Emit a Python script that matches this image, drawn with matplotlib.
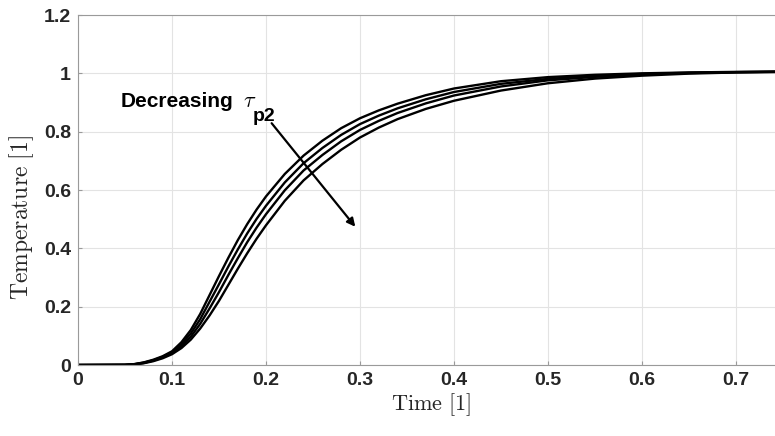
import matplotlib
matplotlib.use("Agg")
import matplotlib.pyplot as plt

# time samples
time = [0.00, 0.05, 0.06, 0.07, 0.08, 0.09, 0.10, 0.11, 0.12, 0.13, 0.14,
        0.15, 0.16, 0.17, 0.18, 0.19, 0.20, 0.22, 0.24, 0.26, 0.28, 0.30,
        0.32, 0.34, 0.37, 0.40, 0.45, 0.50, 0.55, 0.60, 0.65, 0.70, 0.75]

# four responses, largest tau_p2 last
temp_1 = [0.000, 0.001, 0.003, 0.009, 0.018, 0.030, 0.047, 0.078, 0.120, 0.175, 0.240,
          0.305, 0.368, 0.428, 0.483, 0.533, 0.578, 0.655, 0.718, 0.769, 0.812, 0.846,
          0.873, 0.896, 0.925, 0.948, 0.973, 0.987, 0.995, 1.000, 1.003, 1.005, 1.006]
temp_2 = [0.000, 0.001, 0.003, 0.008, 0.016, 0.028, 0.044, 0.071, 0.108, 0.157, 0.217,
          0.277, 0.338, 0.396, 0.451, 0.501, 0.546, 0.626, 0.692, 0.744, 0.789, 0.826,
          0.855, 0.880, 0.911, 0.936, 0.964, 0.981, 0.991, 0.998, 1.002, 1.004, 1.006]
temp_3 = [0.000, 0.000, 0.002, 0.007, 0.015, 0.026, 0.041, 0.064, 0.097, 0.141, 0.194,
          0.250, 0.309, 0.366, 0.421, 0.471, 0.517, 0.599, 0.667, 0.720, 0.767, 0.806,
          0.837, 0.864, 0.897, 0.924, 0.955, 0.976, 0.988, 0.996, 1.001, 1.004, 1.005]
temp_4 = [0.000, 0.000, 0.002, 0.006, 0.013, 0.023, 0.037, 0.058, 0.087, 0.125, 0.170,
          0.220, 0.275, 0.330, 0.383, 0.433, 0.479, 0.563, 0.633, 0.689, 0.738, 0.780,
          0.814, 0.843, 0.878, 0.906, 0.941, 0.966, 0.982, 0.992, 0.999, 1.003, 1.005]

x_ticks = [0, 0.1, 0.2, 0.3, 0.4, 0.5, 0.6, 0.7]
x_tick_labels = ["0", "0.1", "0.2", "0.3", "0.4", "0.5", "0.6", "0.7"]
y_ticks = [0, 0.2, 0.4, 0.6, 0.8, 1.0, 1.2]
y_tick_labels = ["0", "0.2", "0.4", "0.6", "0.8", "1", "1.2"]

plt.rcParams["font.family"] = ["Liberation Sans", "DejaVu Sans"]
plt.rcParams["mathtext.fontset"] = "cm"

fig = plt.figure(figsize=(7.75, 4.36), dpi=100)
ax = fig.add_axes([78 / 775, 71 / 436, 705 / 775, 350 / 436])

for series in (temp_1, temp_2, temp_3, temp_4):
    ax.plot(time, series, color="black", lw=1.7)

ax.set_xlim(0, 0.75)
ax.set_ylim(0, 1.2)
ax.set_xticks(x_ticks)
ax.set_xticklabels(x_tick_labels, fontweight="bold", fontsize=14)
ax.set_yticks(y_ticks)
ax.set_yticklabels(y_tick_labels, fontweight="bold", fontsize=14)
ax.tick_params(direction="in", length=3, color="#9a9a9a", labelcolor="#262626", pad=5)

ax.grid(True, color="#e3e3e3", lw=0.8)
ax.set_axisbelow(True)
for side in ("left", "bottom", "top", "right"):
    ax.spines[side].set_color("#9a9a9a")
    ax.spines[side].set_linewidth(0.8)

ax.set_xlabel(r"$\mathrm{Time\ [1]}$", fontsize=16, color="#262626", labelpad=2)
ax.set_ylabel(r"$\mathrm{Temperature\ [1]}$", fontsize=17, color="#262626")
ax.yaxis.set_label_coords(-0.060, 0.42)

# annotation
ax.text(0.045, 0.884, "Decreasing", fontsize=15, fontweight="bold", ha="left", va="baseline")
ax.text(0.176, 0.884, r"$\tau$", fontsize=16, ha="left", va="baseline")
ax.text(0.186, 0.838, "p2", fontsize=14, fontweight="bold", ha="left", va="baseline")
ax.annotate("", xy=(0.295, 0.474), xytext=(0.206, 0.829),
            arrowprops=dict(arrowstyle="-|>", color="black", lw=1.6,
                            mutation_scale=12, shrinkA=0, shrinkB=0))

fig.savefig("out.png", dpi=100)
